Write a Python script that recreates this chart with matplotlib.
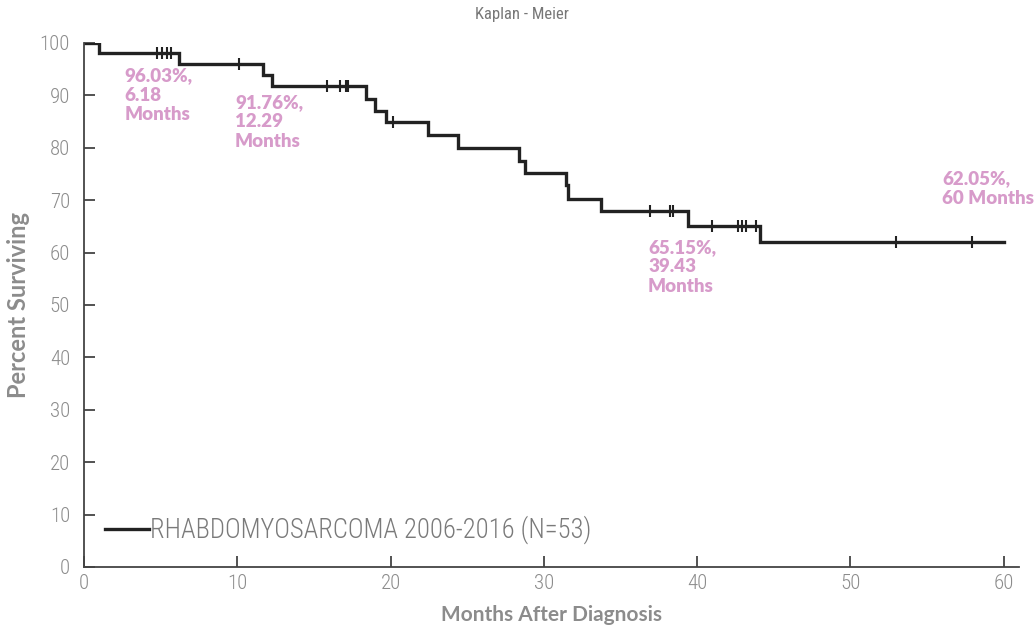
import numpy as np
import matplotlib
matplotlib.use("Agg")
import matplotlib.pyplot as plt
from matplotlib import font_manager as fm
from matplotlib.lines import Line2D

# ---- data ----
event_months = [0.98, 6.18, 11.7, 12.29, 18.4, 18.98, 19.7, 22.46, 24.4,
                28.4, 28.77, 31.44, 31.55, 33.7, 39.43, 44.1]
survival_pct = [98.11, 96.03, 93.9, 91.76, 89.4, 87.0, 84.9, 82.4, 79.9,
                77.5, 75.2, 72.9, 70.2, 67.9, 65.15, 62.05]
censor_months = [4.74, 5.1, 5.39, 5.65, 10.13, 15.83, 16.7, 17.1, 17.2, 20.14,
                 36.9, 38.2, 38.4, 40.98, 42.68, 42.96, 43.22, 43.84, 52.95, 57.95]
follow_up_end = 60
x_ticks = [0, 10, 20, 30, 40, 50, 60]
y_ticks = [0, 10, 20, 30, 40, 50, 60, 70, 80, 90, 100]
series_label = "RHABDOMYOSARCOMA 2006-2016 (N=53)"
annotations = [
    ("96.03%,\n6.18\nMonths", 2.65, 95.4),
    ("91.76%,\n12.29\nMonths", 9.85, 90.3),
    ("65.15%,\n39.43\nMonths", 36.8, 62.6),
    ("62.05%,\n60 Months", 56.0, 75.7),
]


def pick(*names):
    for n in names:
        try:
            fm.findfont(fm.FontProperties(family=n), fallback_to_default=False)
            return n
        except Exception:
            continue
    return "DejaVu Sans"


narrow = pick("Roboto Condensed", "Liberation Sans Narrow", "Open Sans Condensed", "Liberation Sans")
boldf = pick("Lato", "Open Sans", "DejaVu Sans")

gray = "#8c8c8c"
pink = "#d79bca"

fig = plt.figure(figsize=(10.34, 6.27), dpi=100)
ax = fig.add_axes([84 / 1034, 1 - 567 / 627, 935 / 1034, 524 / 627])

xs = np.r_[0, event_months, follow_up_end]
ys = np.r_[100, survival_pct, survival_pct[-1]]
ax.step(xs, ys, where="post", color="#222222", lw=2.4, solid_joinstyle="miter")

# censor marks on the curve
cm = np.array(censor_months)
idx = np.searchsorted(np.array(event_months), cm, side="right")
cy = np.r_[100, survival_pct][idx]
ax.plot(cm, cy, ls="none", marker="|", ms=9, mew=1.5, color="#222222")

ax.set_xlim(0, 61)
ax.set_ylim(0, 100)
ax.set_xticks(x_ticks)
ax.set_yticks(y_ticks)
for s in ["top", "right"]:
    ax.spines[s].set_visible(False)
for s in ["left", "bottom"]:
    ax.spines[s].set_color("#444444")
    ax.spines[s].set_linewidth(1.3)
ax.tick_params(direction="in", length=8, width=1.3, color="#444444",
               labelcolor=gray, labelsize=15, pad=6)
for lab in ax.get_xticklabels() + ax.get_yticklabels():
    lab.set_fontfamily(narrow)
    lab.set_fontweight("light")
ax.tick_params(axis="y", pad=10)
ax.tick_params(axis="x", pad=5)

ax.set_xlabel("Months After Diagnosis", fontsize=15, fontweight="bold",
              color=gray, family=boldf, labelpad=9)
ax.set_ylabel("Percent Surviving", fontsize=17, fontweight="bold",
              color=gray, family=boldf, labelpad=7)

for txt, x, y in annotations:
    ax.text(x, y, txt, color=pink, fontsize=13.5, fontweight="heavy",
            family=boldf, va="top", ha="left", linespacing=1.18)

handle = Line2D([], [], color="#222222", lw=2.4)
leg = ax.legend([handle], [series_label], loc="center left",
                bbox_to_anchor=(0.0225, 0.0706), frameon=False,
                handlelength=1.65, handletextpad=0.05, borderpad=0,
                borderaxespad=0, prop={"family": narrow, "size": 19.2, "weight": "light"})
for t in leg.get_texts():
    t.set_color("#7a7a7a")

fig.text(522 / 1034, 1 - 14 / 627, "Kaplan - Meier", ha="center", va="center",
         fontsize=12, color="#777777", family=narrow)

fig.savefig("out.png", dpi=100)
